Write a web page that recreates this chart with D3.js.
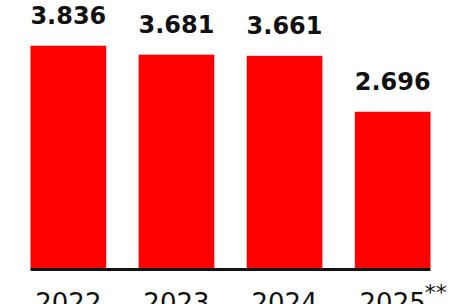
<!DOCTYPE html>
<html>
<head>
<meta charset="utf-8">
<script src="https://cdn.jsdelivr.net/npm/d3@7"></script>
<style>
  html, body { margin: 0; padding: 0; background: #fff; overflow: hidden; }
</style>
</head>
<body>
<div id="chart"></div>
<script>
// data
const years = ['2022', '2023', '2024', '2025'];
const values = [3836, 3681, 3661, 2696];
const yearNotes = ['', '', '', '**'];

const width = 456;
const height = 304;

const svg = d3.select('#chart')
  .append('svg')
  .attr('width', width)
  .attr('height', height);

const x = d3.scaleBand()
  .domain(years)
  .range([30.5, 430.5])
  .paddingInner(0.3)
  .paddingOuter(0);

const y = d3.scaleLinear()
  .domain([0, 4000])
  .range([268, 268 - 4 * 57.95]);

const fmt = d3.formatLocale({ decimal: ',', thousands: '.', grouping: [3], currency: ['', ''] }).format(',d');

const data = years.map((year, i) => ({ year, value: values[i], note: yearNotes[i] }));

svg.selectAll('rect.bar')
  .data(data)
  .enter().append('rect')
  .attr('class', 'bar')
  .attr('x', d => x(d.year))
  .attr('y', d => y(d.value))
  .attr('width', x.bandwidth())
  .attr('height', d => y(0) - y(d.value))
  .attr('fill', '#fe0000');

// baseline
svg.append('line')
  .attr('x1', x.range()[0])
  .attr('x2', x.range()[1])
  .attr('y1', y(0) + 1.5)
  .attr('y2', y(0) + 1.5)
  .attr('stroke', '#111')
  .attr('stroke-width', 3);

// value labels
svg.selectAll('text.value')
  .data(data)
  .enter().append('text')
  .attr('class', 'value')
  .attr('x', d => x(d.year) + x.bandwidth() / 2)
  .attr('y', d => y(d.value) - 22)
  .attr('text-anchor', 'middle')
  .style('font-family', 'DejaVu Sans, sans-serif')
  .style('font-weight', 'bold')
  .style('font-size', '24px')
  .style('fill', '#111')
  .text(d => fmt(d.value));

// year labels, cut by the bottom edge
const yearText = svg.selectAll('text.year')
  .data(data)
  .enter().append('text')
  .attr('class', 'year')
  .attr('x', d => x(d.year) + x.bandwidth() / 2)
  .attr('y', 312)
  .attr('text-anchor', 'middle')
  .style('font-family', 'DejaVu Sans, sans-serif')
  .style('font-size', '26px')
  .style('fill', '#111')
  .text(d => d.year);

svg.selectAll('text.note')
  .data(data.filter(d => d.note))
  .enter().append('text')
  .attr('class', 'note')
  .attr('x', d => x(d.year) + x.bandwidth() / 2 + 32)
  .attr('y', 300)
  .style('font-family', 'DejaVu Sans, sans-serif')
  .style('font-size', '22px')
  .style('fill', '#111')
  .text(d => d.note);
</script>
</body>
</html>
